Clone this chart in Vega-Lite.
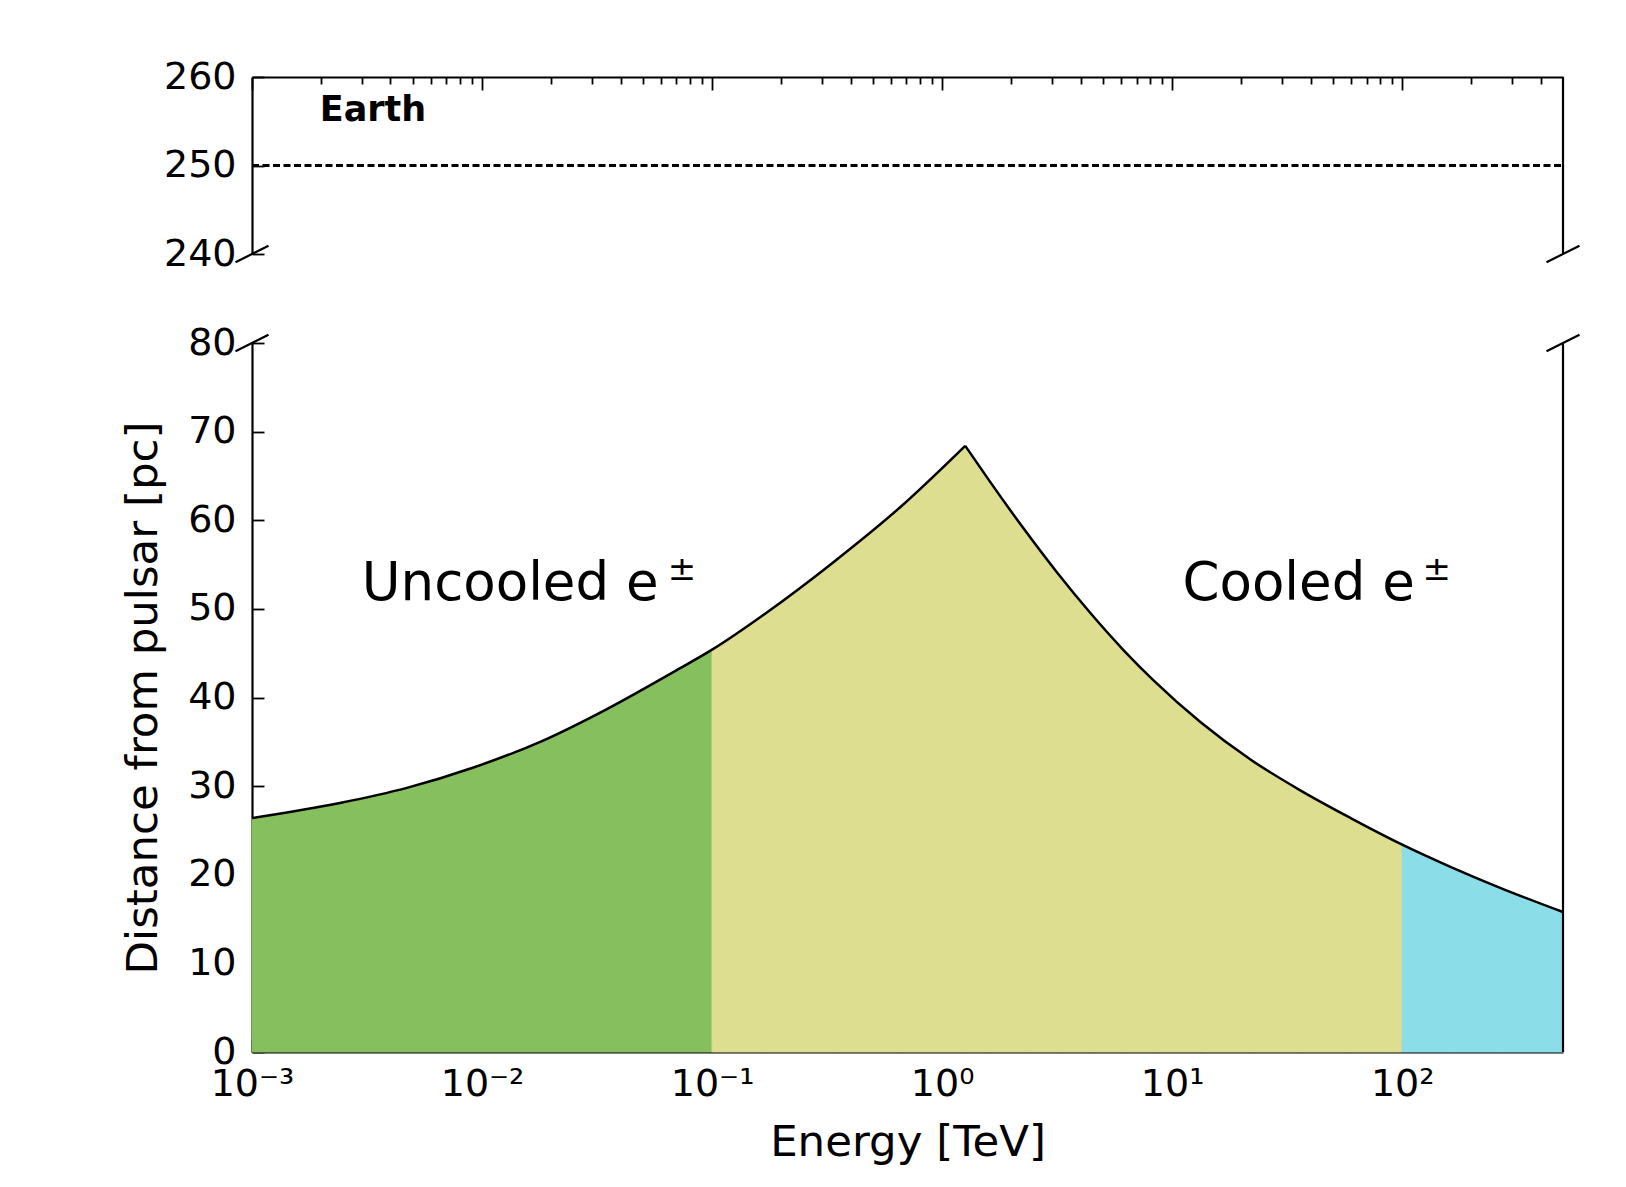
{
  "$schema": "https://vega.github.io/schema/vega-lite/v6.json",
  "background": "white",
  "padding": {"left": 121, "top": 58, "right": 49, "bottom": 18},
  "bounds": "flush",
  "spacing": 89,
  "datasets": {
    "curve": [
      {"E": 0.001, "D": 26.4, "region": "green", "branch": "rise"},
      {"E": 0.00241, "D": 28.1, "region": "green", "branch": "rise"},
      {"E": 0.00471, "D": 29.8, "region": "green", "branch": "rise"},
      {"E": 0.00918, "D": 32.1, "region": "green", "branch": "rise"},
      {"E": 0.0179, "D": 35.0, "region": "green", "branch": "rise"},
      {"E": 0.0349, "D": 38.7, "region": "green", "branch": "rise"},
      {"E": 0.0681, "D": 42.9, "region": "green", "branch": "rise"},
      {"E": 0.1, "D": 45.4, "region": "green", "branch": "rise"},
      {"E": 0.1, "D": 45.4, "region": "olive", "branch": "rise"},
      {"E": 0.173, "D": 49.6, "region": "olive", "branch": "rise"},
      {"E": 0.338, "D": 55.3, "region": "olive", "branch": "rise"},
      {"E": 0.659, "D": 61.5, "region": "olive", "branch": "rise"},
      {"E": 1.26, "D": 68.4, "region": "olive", "branch": "rise"},
      {"E": 1.26, "D": 68.4, "region": "olive", "branch": "fall"},
      {"E": 1.62, "D": 64.3, "region": "olive", "branch": "fall"},
      {"E": 2.27, "D": 59.0, "region": "olive", "branch": "fall"},
      {"E": 3.16, "D": 54.1, "region": "olive", "branch": "fall"},
      {"E": 4.42, "D": 49.5, "region": "olive", "branch": "fall"},
      {"E": 6.17, "D": 45.3, "region": "olive", "branch": "fall"},
      {"E": 8.32, "D": 41.9, "region": "olive", "branch": "fall"},
      {"E": 13.3, "D": 37.2, "region": "olive", "branch": "fall"},
      {"E": 21.9, "D": 33.0, "region": "olive", "branch": "fall"},
      {"E": 36.2, "D": 29.5, "region": "olive", "branch": "fall"},
      {"E": 59.7, "D": 26.4, "region": "olive", "branch": "fall"},
      {"E": 100, "D": 23.4, "region": "olive", "branch": "fall"},
      {"E": 100, "D": 23.4, "region": "cyan", "branch": "fall"},
      {"E": 162, "D": 20.9, "region": "cyan", "branch": "fall"},
      {"E": 268, "D": 18.5, "region": "cyan", "branch": "fall"},
      {"E": 500, "D": 15.8, "region": "cyan", "branch": "fall"}
    ],
    "labels": [
      {"E": 0.0030, "D": 51.0, "text": "Uncooled e", "kind": "main"},
      {"E": 0.0641, "D": 53.3, "text": "±", "kind": "sup"},
      {"E": 11.09, "D": 51.0, "text": "Cooled e", "kind": "main"},
      {"E": 122.5, "D": 53.3, "text": "±", "kind": "sup"}
    ],
    "earth": [
      {"E0": 0.001, "E1": 500, "D": 250, "text": "Earth", "TE": 0.00197, "TD": 255.0}
    ],
    "frame": [
      {"panel": "upper", "E": 0.001, "D": 240, "Dtop": 260},
      {"panel": "upper", "E": 500, "D": 240, "Dtop": 260},
      {"panel": "lower", "E": 0.001, "D": 80, "Dbot": 0},
      {"panel": "lower", "E": 500, "D": 80, "Dbot": 0}
    ]
  },
  "config": {
    "font": "DejaVu Sans",
    "view": {"stroke": null},
    "axis": {
      "domainColor": "black",
      "domainWidth": 2.2,
      "tickColor": "black",
      "tickWidth": 1.8,
      "labelFont": "DejaVu Sans",
      "labelFontSize": 38,
      "labelColor": "black",
      "titleFont": "DejaVu Sans",
      "titleFontSize": 43.5,
      "titleFontWeight": "normal",
      "titleColor": "black",
      "grid": false,
      "labelOverlap": false,
      "labelFlush": false,
      "labelBound": false
    }
  },
  "vconcat": [
    {
      "width": 1311,
      "height": 177,
      "layer": [
        {
          "data": {"name": "earth"},
          "mark": {"type": "rule", "color": "black", "strokeWidth": 2.8, "strokeDash": [7, 3.5]},
          "encoding": {
            "x": {
              "field": "E0", "type": "quantitative",
              "scale": {"type": "log", "domain": [0.001, 500], "nice": false},
              "axis": {
                "orient": "top",
                "title": null,
                "labels": false,
                "values": [0.001,0.002,0.003,0.004,0.005,0.006,0.007,0.008,0.009,0.01,0.02,0.03,0.04,0.05,0.06,0.07,0.08,0.09,0.1,0.2,0.3,0.4,0.5,0.6,0.7,0.8,0.9,1,2,3,4,5,6,7,8,9,10,20,30,40,50,60,70,80,90,100,200,300,400],
                "tickSize": {"condition": {"test": "indexof([0.001,0.01,0.1,1,10,100], datum.value) >= 0", "value": -13}, "value": -7}
              }
            },
            "x2": {"field": "E1"},
            "y": {
              "field": "D", "type": "quantitative",
              "scale": {"domain": [240, 260], "nice": false},
              "axis": {"values": [240, 250, 260], "title": null, "tickSize": -12, "labelPadding": 28}
            }
          }
        },
        {
          "data": {"name": "earth"},
          "mark": {"type": "text", "fontWeight": "bold", "fontSize": 35, "align": "left", "baseline": "alphabetic", "color": "black"},
          "encoding": {
            "x": {"field": "TE", "type": "quantitative"},
            "y": {"field": "TD", "type": "quantitative"},
            "text": {"field": "text"}
          }
        },
        {
          "data": {"name": "frame"},
          "transform": [{"filter": "datum.panel == 'upper' && datum.E > 1"}],
          "mark": {"type": "rule", "color": "black", "strokeWidth": 2.2},
          "encoding": {
            "x": {"field": "E", "type": "quantitative"},
            "y": {"field": "D", "type": "quantitative"},
            "y2": {"field": "Dtop"}
          }
        },
        {
          "data": {"name": "frame"},
          "transform": [{"filter": "datum.panel == 'upper'"}],
          "mark": {"type": "point", "shape": "M -1 0.5 L 1 -0.5", "size": 1089, "filled": false, "stroke": "black", "strokeWidth": 2.2, "opacity": 1, "clip": false},
          "encoding": {
            "x": {"field": "E", "type": "quantitative"},
            "y": {"field": "D", "type": "quantitative"}
          }
        }
      ]
    },
    {
      "width": 1311,
      "height": 709,
      "layer": [
        {
          "data": {"name": "curve"},
          "mark": {"type": "area", "opacity": 1, "interpolate": "monotone", "strokeWidth": 1},
          "encoding": {
            "x": {
              "field": "E", "type": "quantitative",
              "scale": {"type": "log", "domain": [0.001, 500], "nice": false},
              "axis": {
                "orient": "bottom",
                "title": "Energy [TeV]",
                "values": [0.001,0.002,0.003,0.004,0.005,0.006,0.007,0.008,0.009,0.01,0.02,0.03,0.04,0.05,0.06,0.07,0.08,0.09,0.1,0.2,0.3,0.4,0.5,0.6,0.7,0.8,0.9,1,2,3,4,5,6,7,8,9,10,20,30,40,50,60,70,80,90,100,200,300,400],
                "tickSize": {"condition": {"test": "indexof([0.001,0.01,0.1,1,10,100], datum.value) >= 0", "value": -13}, "value": -8},
                "labelExpr": "datum.value == 0.001 ? '10⁻³' : datum.value == 0.01 ? '10⁻²' : datum.value == 0.1 ? '10⁻¹' : datum.value == 1 ? '10⁰' : datum.value == 10 ? '10¹' : datum.value == 100 ? '10²' : ''",
                "labelPadding": 26,
                "titlePadding": 13
              }
            },
            "y": {
              "field": "D", "type": "quantitative",
              "stack": null,
              "scale": {"domain": [0, 80], "nice": false},
              "axis": {"values": [0,10,20,30,40,50,60,70,80], "title": "Distance from pulsar [pc]", "tickSize": -12, "labelPadding": 28, "titlePadding": 22.5}
            },
            "color": {
              "field": "region", "type": "nominal",
              "scale": {"domain": ["green", "olive", "cyan"], "range": ["#85BF5E", "#DDDE90", "#8BDEE7"]},
              "legend": null
            },
            "stroke": {
              "field": "region", "type": "nominal",
              "scale": {"domain": ["green", "olive", "cyan"], "range": ["#85BF5E", "#DDDE90", "#8BDEE7"]},
              "legend": null
            },
            "detail": {"field": "branch"}
          }
        },
        {
          "data": {"name": "curve"},
          "mark": {"type": "line", "color": "black", "strokeWidth": 2.5, "interpolate": "monotone"},
          "encoding": {
            "x": {"field": "E", "type": "quantitative"},
            "y": {"field": "D", "type": "quantitative"},
            "detail": {"field": "branch"}
          }
        },
        {
          "data": {"name": "labels"},
          "transform": [{"filter": "datum.kind == 'main'"}],
          "mark": {"type": "text", "fontSize": 53, "align": "left", "baseline": "alphabetic", "color": "black"},
          "encoding": {
            "x": {"field": "E", "type": "quantitative"},
            "y": {"field": "D", "type": "quantitative"},
            "text": {"field": "text"}
          }
        },
        {
          "data": {"name": "labels"},
          "transform": [{"filter": "datum.kind == 'sup'"}],
          "mark": {"type": "text", "fontSize": 34, "align": "left", "baseline": "alphabetic", "color": "black"},
          "encoding": {
            "x": {"field": "E", "type": "quantitative"},
            "y": {"field": "D", "type": "quantitative"},
            "text": {"field": "text"}
          }
        },
        {
          "data": {"name": "frame"},
          "transform": [{"filter": "datum.panel == 'lower' && datum.E > 1"}],
          "mark": {"type": "rule", "color": "black", "strokeWidth": 2.2},
          "encoding": {
            "x": {"field": "E", "type": "quantitative"},
            "y": {"field": "D", "type": "quantitative"},
            "y2": {"field": "Dbot"}
          }
        },
        {
          "data": {"name": "frame"},
          "transform": [{"filter": "datum.panel == 'lower'"}],
          "mark": {"type": "point", "shape": "M -1 0.5 L 1 -0.5", "size": 1089, "filled": false, "stroke": "black", "strokeWidth": 2.2, "opacity": 1, "clip": false},
          "encoding": {
            "x": {"field": "E", "type": "quantitative"},
            "y": {"field": "D", "type": "quantitative"}
          }
        }
      ]
    }
  ]
}
